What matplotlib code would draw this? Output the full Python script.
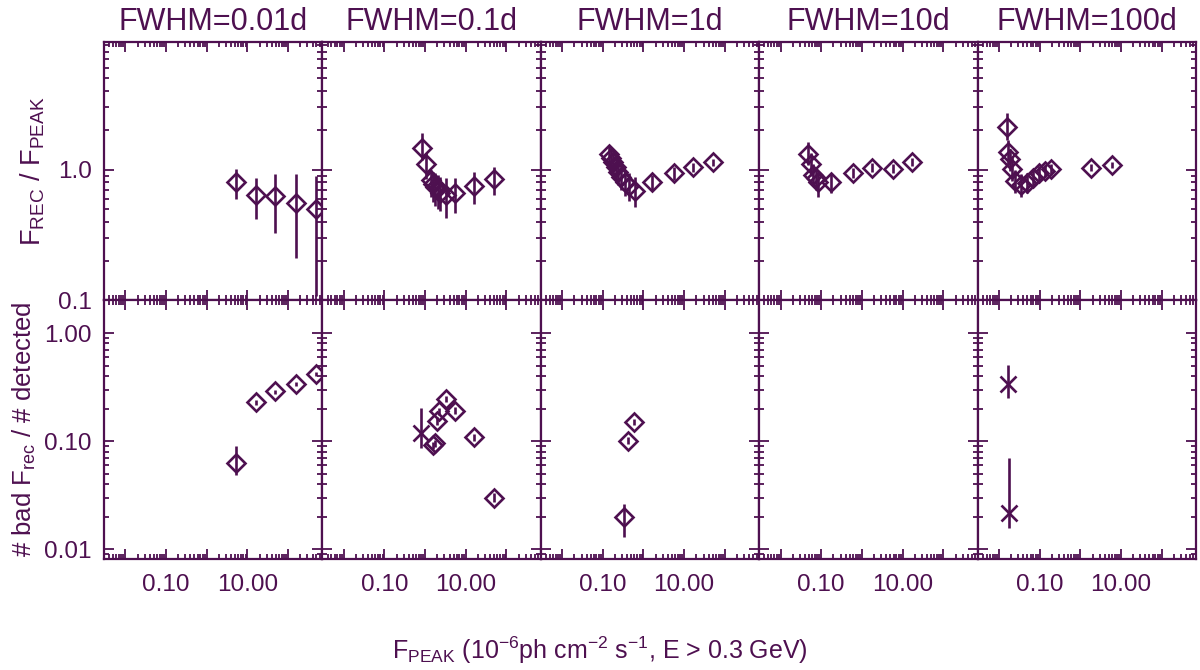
#!/usr/bin/env python3
"""Recovered / peak flux and bad-recovery fraction vs peak flux, for five flare widths."""

import matplotlib
matplotlib.use("Agg")
import matplotlib.pyplot as plt
import matplotlib.ticker as mticker

INK = "#4e1050"

plt.rcParams["font.family"] = ["Liberation Sans", "DejaVu Sans"]
plt.rcParams["mathtext.fontset"] = "custom"
plt.rcParams["mathtext.rm"] = "Liberation Sans"
plt.rcParams["mathtext.it"] = "Liberation Sans:italic"

TITLES = ["FWHM=0.01d", "FWHM=0.1d", "FWHM=1d", "FWHM=10d", "FWHM=100d"]

# --- top row: F_REC / F_PEAK (diamonds with error bars) ---
top_x = [
    [5.3, 16, 48, 158, 490],
    [0.83, 1.05, 1.41, 1.60, 1.80, 2.05, 2.39, 3.3, 5.5, 15.9, 48.6],
    [0.145, 0.162, 0.182, 0.209, 0.241, 0.286, 0.349, 0.439, 0.634, 1.64, 5.6, 16.9, 49.7],
    [0.048, 0.056, 0.064, 0.074, 0.085, 0.172, 0.59, 1.77, 5.8, 17.2],
    [0.0158, 0.0167, 0.019, 0.021, 0.0252, 0.0355, 0.049, 0.068, 0.095, 0.134, 0.195, 1.87, 5.9],
]
top_y = [
    [0.80, 0.64, 0.63, 0.56, 0.50],
    [1.48, 1.10, 0.83, 0.78, 0.74, 0.72, 0.67, 0.64, 0.67, 0.75, 0.85],
    [1.31, 1.24, 1.15, 1.05, 0.965, 0.88, 0.81, 0.75, 0.69, 0.81, 0.95, 1.05, 1.14],
    [1.32, 1.10, 0.91, 0.86, 0.80, 0.81, 0.94, 1.04, 1.02, 1.14],
    [2.13, 1.38, 1.20, 1.02, 0.82, 0.76, 0.79, 0.87, 0.94, 0.98, 1.01, 1.04, 1.09],
]
top_lo = [
    [0.60, 0.42, 0.33, 0.21, 0.108],
    [1.19, 0.85, 0.62, 0.57, 0.53, 0.50, 0.48, 0.43, 0.47, 0.55, 0.64],
    [1.08, 1.02, 0.94, 0.85, 0.77, 0.70, 0.63, 0.58, 0.52, 0.70, 0.84, 0.97, 1.06],
    [1.08, 0.90, 0.75, 0.70, 0.62, 0.67, 0.86, 0.96, 0.95, 1.06],
    [1.70, 1.10, 0.98, 0.82, 0.66, 0.62, 0.66, 0.76, 0.84, 0.88, 0.92, 0.98, 1.03],
]
top_hi = [
    [1.02, 0.87, 0.93, 0.93, 0.89],
    [1.91, 1.35, 1.00, 0.97, 0.95, 0.92, 0.88, 0.86, 0.87, 0.96, 1.05],
    [1.55, 1.48, 1.38, 1.27, 1.17, 1.08, 1.00, 0.94, 0.88, 0.92, 1.05, 1.13, 1.22],
    [1.63, 1.35, 1.10, 1.05, 0.95, 0.95, 1.03, 1.12, 1.10, 1.23],
    [2.70, 1.70, 1.45, 1.25, 1.00, 0.93, 0.95, 1.00, 1.06, 1.08, 1.10, 1.10, 1.15],
]

# --- bottom row: # bad F_rec / # detected (diamonds) ---
bot_x = [
    [5.3, 16, 48, 158, 490],
    [1.60, 1.80, 1.98, 2.24, 3.2, 5.5, 15.9, 48.6],
    [0.33, 0.42, 0.58],
    [],
    [],
]
bot_y = [
    [0.062, 0.228, 0.288, 0.34, 0.42],
    [0.092, 0.096, 0.153, 0.188, 0.246, 0.191, 0.109, 0.030],
    [0.0198, 0.101, 0.150],
    [],
    [],
]
bot_lo = [
    [0.049, 0.215, 0.275, 0.325, 0.40],
    [0.085, 0.089, 0.14, 0.174, 0.232, 0.178, 0.101, 0.027],
    [0.013, 0.094, 0.141],
    [],
    [],
]
bot_hi = [
    [0.090, 0.242, 0.30, 0.355, 0.44],
    [0.099, 0.103, 0.166, 0.203, 0.26, 0.205, 0.117, 0.033],
    [0.026, 0.108, 0.159],
    [],
    [],
]

# crosses in the bottom row
cross_x = [[], [0.79], [], [], [0.0164, 0.018]]
cross_y = [[], [0.119], [], [], [0.336, 0.0215]]
cross_lo = [[], [0.087], [], [], [0.25, 0.0158]]
cross_hi = [[], [0.202], [], [], [0.51, 0.069]]


def errs(y, lo, hi):
    return [[v - l for v, l in zip(y, lo)], [h - v for v, h in zip(y, hi)]]


def style_axis(ax):
    ax.set_xscale("log")
    ax.set_yscale("log")
    ax.tick_params(which="both", direction="in", top=True, right=True,
                   colors=INK, width=1.3, labelsize=17.5)
    ax.tick_params(axis="x", pad=11)
    ax.tick_params(axis="y", pad=9)
    ax.tick_params(which="major", length=7)
    ax.tick_params(which="minor", length=3.5)
    for sp in ax.spines.values():
        sp.set_color(INK)
        sp.set_linewidth(1.6)
    ax.xaxis.set_major_locator(mticker.LogLocator(base=10, numticks=20))
    ax.xaxis.set_minor_locator(mticker.LogLocator(base=10, subs=range(2, 10), numticks=20))


fig, axes = plt.subplots(2, 5, figsize=(12, 6.7), dpi=100)
fig.subplots_adjust(left=0.0867, right=0.9967, top=0.9373, bottom=0.1657,
                    wspace=0, hspace=0)

xfmt = mticker.FuncFormatter(lambda v, _: {0.1: "0.10", 10: "10.00"}.get(round(v, 6), ""))

mk = dict(mfc="none", mec=INK, mew=1.9, ecolor=INK, elinewidth=1.9, capsize=0, zorder=3)

for col in range(5):
    ax_t = axes[0, col]
    ax_b = axes[1, col]
    for ax in (ax_t, ax_b):
        style_axis(ax)
        ax.set_xlim(0.003, 700)

    ax_t.errorbar(top_x[col], top_y[col], yerr=errs(top_y[col], top_lo[col], top_hi[col]),
                  fmt="D", ms=9.5, **mk)
    if bot_x[col]:
        ax_b.errorbar(bot_x[col], bot_y[col], yerr=errs(bot_y[col], bot_lo[col], bot_hi[col]),
                      fmt="D", ms=9.5, **mk)
    if cross_x[col]:
        ax_b.errorbar(cross_x[col], cross_y[col],
                      yerr=errs(cross_y[col], cross_lo[col], cross_hi[col]),
                      fmt="x", ms=12, **mk)

    ax_t.set_ylim(0.1, 9.5)
    ax_b.set_ylim(0.0081, 2.0)
    ax_t.yaxis.set_major_locator(mticker.FixedLocator([0.1, 1.0]))
    ax_b.yaxis.set_major_locator(mticker.FixedLocator([0.01, 0.1, 1.0]))
    for ax in (ax_t, ax_b):
        ax.yaxis.set_minor_locator(mticker.LogLocator(base=10, subs=range(2, 10), numticks=20))
        ax.yaxis.set_minor_formatter(mticker.NullFormatter())
        ax.xaxis.set_minor_formatter(mticker.NullFormatter())

    ax_t.xaxis.set_major_formatter(mticker.NullFormatter())
    ax_b.xaxis.set_major_formatter(xfmt)

    if col == 0:
        ax_t.yaxis.set_major_formatter(mticker.FixedFormatter(["0.1", "1.0"]))
        ax_b.yaxis.set_major_formatter(mticker.FixedFormatter(["0.01", "0.10", "1.00"]))
    else:
        ax_t.yaxis.set_major_formatter(mticker.NullFormatter())
        ax_b.yaxis.set_major_formatter(mticker.NullFormatter())

    ax_t.set_title(TITLES[col], color=INK, fontsize=22, pad=9)

axes[0, 0].set_ylabel(r"F$_\mathrm{REC}$ / F$_\mathrm{PEAK}$", color=INK, fontsize=19.5, labelpad=8)
axes[1, 0].set_ylabel(r"# bad F$_\mathrm{rec}$ / # detected", color=INK, fontsize=18.5, labelpad=4)

fig.text(0.5, 0.03,
         r"F$_\mathrm{PEAK}$ (10$^\mathrm{-6}$ph cm$^\mathrm{-2}$ s$^\mathrm{-1}$, E > 0.3 GeV)",
         color=INK, fontsize=18, ha="center", va="center")

fig.savefig("out.png", dpi=100)
